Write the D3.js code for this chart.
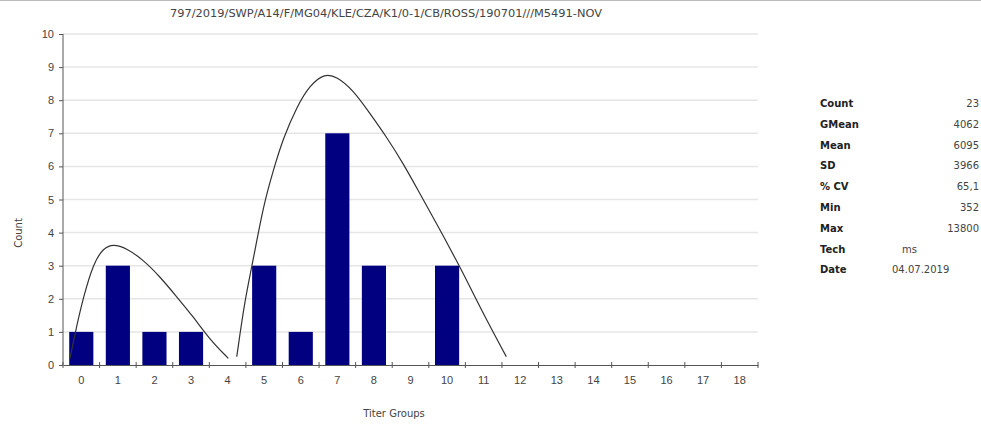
<!DOCTYPE html>
<html lang="en">
  <head>
    <meta charset="UTF-8" />
    <title>Titer Groups</title>
    <script src="https://d3js.org/d3.v7.min.js"></script>
    <style>
      body {
        margin: 0;
        background: #fff;
        font-family: "DejaVu Sans", Verdana, sans-serif;
      }
      .grid line {
        stroke: #e6e6e6;
        stroke-width: 1.5;
      }
      .axis path,
      .axis line {
        stroke: #555;
      }
      .axis text {
        fill: #444;
        font-size: 11px;
      }
    </style>
  </head>
  <body>
    <svg id="chart" width="981" height="424"></svg>
    <script>
      const width = 981;
      const height = 424;
      const margin = { top: 34, right: 223, bottom: 59, left: 63 };

      const title = "797/2019/SWP/A14/F/MG04/KLE/CZA/K1/0-1/CB/ROSS/190701///M5491-NOV";
      const groups = d3.range(0, 19).map(String);
      const counts = [1, 3, 1, 1, 0, 3, 1, 7, 3, 0, 3, 0, 0, 0, 0, 0, 0, 0, 0];
      const yTicks = [0, 1, 2, 3, 4, 5, 6, 7, 8, 9, 10];

      // fitted curve (x in group units)
      const curve1X = [-0.31, -0.13, 0.06, 0.33, 0.6, 0.87, 1.24, 1.7, 2.15, 2.61, 3.06, 3.52, 4.02];
      const curve1Y = [0.2, 1.16, 2.06, 3.07, 3.53, 3.66, 3.53, 3.17, 2.67, 2.06, 1.46, 0.76, 0.2];
      const curve2X = [4.25, 4.47, 4.7, 4.97, 5.25, 5.52, 5.89, 6.25, 6.66, 6.98, 7.43, 7.89, 8.34, 8.8, 9.25, 9.71, 10.3, 10.62, 11.08, 11.62];
      const curve2Y = [0.25, 1.96, 3.17, 4.78, 5.89, 6.85, 7.8, 8.46, 8.81, 8.71, 8.31, 7.6, 6.9, 6.09, 5.19, 4.28, 3.07, 2.37, 1.36, 0.25];

      const statLabels = ["Count", "GMean", "Mean", "SD", "% CV", "Min", "Max", "Tech", "Date"];
      const statValues = ["23", "4062", "6095", "3966", "65,1", "352", "13800", "ms", "04.07.2019"];

      const svg = d3.select("#chart");

      // thin border at the top
      svg.append("line").attr("x1", 0).attr("x2", width).attr("y1", 0.5).attr("y2", 0.5).attr("stroke", "#bbb");

      const x = d3
        .scaleBand()
        .domain(groups)
        .range([margin.left, width - margin.right]);
      const xLin = d3
        .scaleLinear()
        .domain([-0.5, groups.length - 0.5])
        .range([margin.left, width - margin.right]);
      const y = d3
        .scaleLinear()
        .domain([0, 10])
        .range([height - margin.bottom, margin.top]);

      svg
        .append("g")
        .attr("class", "grid")
        .selectAll("line")
        .data(yTicks.slice(1))
        .join("line")
        .attr("x1", margin.left)
        .attr("x2", width - margin.right)
        .attr("y1", (d) => y(d))
        .attr("y2", (d) => y(d));

      // bars
      const barW = x.bandwidth() * 0.66;
      svg
        .append("g")
        .selectAll("rect")
        .data(counts)
        .join("rect")
        .attr("x", (d, i) => x(groups[i]) + (x.bandwidth() - barW) / 2)
        .attr("y", (d) => y(d))
        .attr("width", barW)
        .attr("height", (d) => y(0) - y(d))
        .attr("fill", "#000080");

      // curve
      const line = d3
        .line()
        .x((d) => xLin(d[0]))
        .y((d) => y(d[1]))
        .curve(d3.curveBasis);
      [
        [curve1X, curve1Y],
        [curve2X, curve2Y],
      ].forEach(([cx, cy]) => {
        svg
          .append("path")
          .datum(cx.map((v, i) => [v, cy[i]]))
          .attr("d", line)
          .attr("fill", "none")
          .attr("stroke", "#333")
          .attr("stroke-width", 1.2);
      });

      // y axis
      svg
        .append("g")
        .attr("class", "axis")
        .attr("transform", `translate(${margin.left},0)`)
        .call(d3.axisLeft(y).tickValues(yTicks).tickSize(4).tickPadding(5))
        .call((g) => g.select(".domain").attr("d", `M0,${y(10)}V${y(0)}`));

      // x axis: labels at group centres, ticks on boundaries
      const xAxis = svg
        .append("g")
        .attr("class", "axis")
        .attr("transform", `translate(0,${y(0)})`)
        .call(d3.axisBottom(x).tickSize(0).tickPadding(11));
      xAxis.selectAll(".tick line").remove();
      xAxis
        .selectAll(".bound")
        .data(d3.range(-0.5, groups.length, 1))
        .join("line")
        .attr("class", "bound")
        .attr("x1", (d) => xLin(d))
        .attr("x2", (d) => xLin(d))
        .attr("y1", -3)
        .attr("y2", 3);

      // titles
      svg
        .append("text")
        .attr("x", 386)
        .attr("y", 17)
        .attr("text-anchor", "middle")
        .attr("font-size", 10.5)
        .attr("textLength", 432)
        .attr("lengthAdjust", "spacingAndGlyphs")
        .attr("fill", "#444")
        .text(title);

      svg
        .append("text")
        .attr("x", 394)
        .attr("y", 417)
        .attr("text-anchor", "middle")
        .attr("font-size", 10)
        .attr("fill", "#444")
        .text("Titer Groups");

      svg
        .append("text")
        .attr("transform", "translate(22,233) rotate(-90)")
        .attr("text-anchor", "middle")
        .attr("font-size", 10)
        .attr("fill", "#444")
        .text("Count");

      // statistics panel
      const stats = svg.append("g");
      statLabels.forEach((lab, i) => {
        const yy = 107 + i * 20.8;
        stats
          .append("text")
          .attr("x", 820)
          .attr("y", yy)
          .attr("font-size", 10)
          .attr("font-weight", "bold")
          .attr("fill", "#222")
          .text(lab);
        const v = stats
          .append("text")
          .attr("y", yy)
          .attr("font-size", 10)
          .attr("fill", "#444")
          .text(statValues[i]);
        if (lab === "Tech") v.attr("x", 902);
        else if (lab === "Date") v.attr("x", 892);
        else v.attr("x", 979).attr("text-anchor", "end");
      });
    </script>
  </body>
</html>
